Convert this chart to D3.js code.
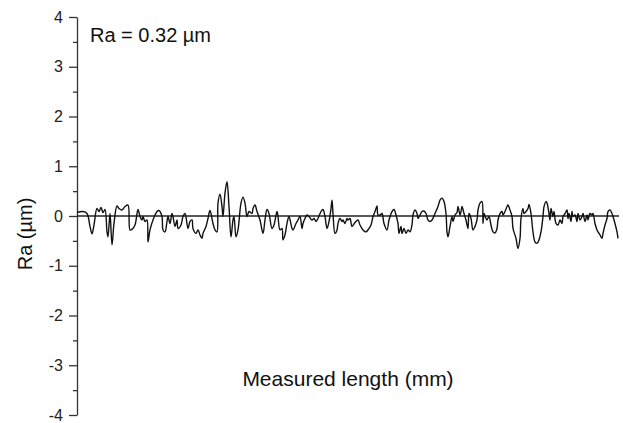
<!DOCTYPE html>
<html><head><meta charset="utf-8">
<script src="https://cdn.jsdelivr.net/npm/d3@7"></script>
<style>html,body{margin:0;padding:0;background:#fff;}svg{display:block;font-family:"Liberation Sans",Arial,sans-serif;}</style>
</head><body><div id="chart"></div>
<script>
// Surface profile: measured length (mm) and profile height (µm)
const lengthMm = [0.00,0.06,0.10,0.13,0.15,0.17,0.20,0.22,0.24,0.26,0.28,0.30,0.31,0.33,0.35,0.37,0.40,0.42,0.45,0.48,0.51,0.53,0.55,0.58,0.61,0.63,0.65,0.66,0.68,0.70,0.71,0.73,0.76,0.80,0.82,0.85,0.86,0.88,0.90,0.91,0.93,0.95,0.96,0.98,1.00,1.01,1.04,1.06,1.08,1.11,1.13,1.15,1.16,1.19,1.21,1.23,1.25,1.26,1.29,1.31,1.33,
1.36,1.38,1.40,1.41,1.43,1.45,1.46,1.48,1.50,1.52,1.54,1.56,1.57,1.59,1.61,1.64,1.66,1.68,1.70,1.72,1.75,1.76,1.78,1.80,1.83,1.86,1.88,1.90,1.92,1.95,1.97,2.00,2.01,2.03,2.05,2.06,2.08,2.10,2.12,2.15,2.16,2.19,2.21,2.23,2.25,2.26,2.28,2.30,2.32,2.35,2.37,2.39,2.41,2.44,2.46,2.48,2.50,2.52,2.54,2.55,2.56,2.58,2.60,2.61,2.63,2.65,2.66,2.68,2.70,2.71,
2.73,2.75,2.78,2.81,2.83,2.86,2.89,2.91,2.94,2.96,2.98,3.00,3.01,3.03,3.05,3.07,3.10,3.12,3.15,3.17,3.19,3.21,3.22,3.24,3.25,3.27,3.29,3.31,3.33,3.35,3.36,3.38,3.40,3.41,3.43,3.45,3.47,3.49,3.51,3.53,3.55,3.58,3.61,3.63,3.65,3.67,3.69,3.70,3.71,3.73,3.75,3.76,3.78,3.80,3.81,3.83,3.84,3.85,3.87,3.89,3.91,3.92,3.94,3.96,3.98,4.00,4.01,4.03,4.05,
4.06,4.07,4.09,4.10,4.12,4.14,4.16,4.18,4.20,4.21,4.23,4.25,4.26,4.28,4.30,4.31,4.33,4.35,4.36,4.39,4.41,4.43,4.44,4.46,4.47,4.49,4.51,4.52,4.54,4.56,4.58,4.60,4.62,4.64,4.66,4.67,4.69,4.70,4.72,4.73,4.74,4.76,4.77,4.79,4.81,4.83,4.85,4.86,4.88,4.90,4.91,4.92,4.94,4.95,4.96,4.98,5.00,5.01,5.03,5.05,5.06,5.08,5.10,5.11,5.13,5.15,5.16,5.18,5.20,5.21,5.23,5.25,5.26,5.28,5.30,5.31,5.33,5.35,5.36,5.38,5.40,5.41];
const raUm = [0.07,0.09,0.05,-0.21,-0.36,-0.18,0.15,0.09,0.17,0.07,0.13,-0.32,-0.42,0.05,-0.58,-0.15,0.20,0.15,0.12,0.19,0.22,-0.28,-0.27,-0.18,0.13,-0.01,-0.08,-0.01,-0.11,-0.08,-0.52,-0.28,-0.08,0.09,0.11,-0.01,-0.28,-0.32,-0.11,-0.01,-0.15,0.05,-0.01,-0.21,-0.08,-0.25,-0.18,-0.01,0.05,-0.25,-0.11,-0.08,-0.25,-0.35,-0.28,-0.38,-0.45,-0.35,-0.21,-0.05,0.11,
-0.15,-0.28,-0.32,0.26,0.44,0.19,-0.01,0.46,0.69,0.19,-0.42,-0.08,-0.01,-0.42,-0.28,0.26,0.38,0.26,-0.01,0.09,0.05,0.15,0.22,0.09,-0.08,-0.35,-0.08,0.13,0.05,-0.25,-0.18,0.09,-0.01,-0.28,-0.25,-0.48,-0.38,-0.15,-0.01,-0.25,-0.28,-0.15,-0.08,-0.01,-0.25,-0.15,-0.05,0.02,-0.01,-0.08,-0.05,-0.11,-0.05,0.09,0.13,-0.01,-0.25,-0.11,0.15,0.32,0.05,-0.35,-0.28,-0.15,-0.05,-0.11,-0.08,-0.15,-0.05,-0.08,
-0.05,-0.21,-0.13,-0.08,-0.18,-0.28,-0.32,-0.28,-0.18,-0.01,0.09,0.20,0.02,0.02,0.05,-0.15,-0.28,-0.08,0.09,0.13,0.02,-0.15,-0.35,-0.21,-0.35,-0.25,-0.35,-0.28,-0.32,-0.18,0.02,0.12,0.05,-0.05,0.02,0.09,0.10,0.05,-0.08,-0.11,-0.08,0.05,0.19,0.32,0.36,0.29,0.05,-0.32,-0.42,-0.21,-0.01,-0.11,0.02,0.07,0.19,0.02,0.09,0.19,0.05,-0.08,-0.25,0.05,-0.05,-0.28,-0.21,-0.08,0.12,0.26,0.29,
-0.15,0.05,-0.05,-0.08,-0.01,-0.18,-0.32,-0.34,-0.25,-0.08,0.05,0.09,0.02,0.09,0.19,0.22,0.12,-0.01,-0.25,-0.45,-0.65,-0.45,-0.05,0.15,0.05,0.09,0.15,0.23,0.05,-0.32,-0.52,-0.55,-0.48,-0.32,-0.01,0.19,0.29,0.26,0.05,-0.08,0.15,-0.01,0.09,-0.15,-0.18,-0.08,-0.15,-0.01,0.05,0.12,-0.05,0.05,-0.11,0.09,-0.01,0.02,-0.11,0.05,-0.08,-0.01,0.05,-0.11,0.02,-0.08,0.05,0.02,0.05,-0.15,-0.28,-0.32,-0.38,-0.45,-0.35,-0.18,-0.05,0.09,0.12,0.05,-0.01,-0.15,-0.32,-0.45];
const yTicks = [-4,-3,-2,-1,0,1,2,3,4];
const yTickLabels = ["-4","-3","-2","-1","0","1","2","3","4"];
const annotation = "Ra = 0.32 \u00B5m";
const xTitle = "Measured length (mm)";
const yTitle = "Ra (\u00B5m)";

const W = 623, H = 423;
const mLeft = 77, mRight = 619, mTop = 17, mBottom = 415;
const svg = d3.select("#chart").append("svg").attr("width", W).attr("height", H);

const x = d3.scaleLinear().domain([0, 5.42]).range([mLeft, mRight]);
const y = d3.scaleLinear().domain([-4, 4]).range([mBottom, mTop]);

// minor ticks
const minorAxis = d3.axisLeft(y).tickValues(d3.range(-3.5, 4, 1)).tickSize(4).tickSizeOuter(0).tickFormat("");
svg.append("g").attr("transform", `translate(${mLeft},0)`).call(minorAxis)
  .call(g => g.select(".domain").remove())
  .call(g => g.selectAll("line").attr("stroke", "#333").attr("stroke-width", 1.3));

const yAxis = d3.axisLeft(y).tickValues(yTicks).tickSize(8).tickSizeOuter(0).tickPadding(6)
  .tickFormat((d, i) => yTickLabels[i]);
svg.append("g").attr("transform", `translate(${mLeft},0)`).call(yAxis)
  .call(g => g.select(".domain").attr("stroke", "#333").attr("stroke-width", 1.3))
  .call(g => g.selectAll("line").attr("stroke", "#333").attr("stroke-width", 1.3))
  .call(g => g.selectAll("text").attr("font-size", 16).attr("fill", "#222").attr("font-family", "Liberation Sans, Arial, sans-serif"));

// zero reference line
svg.append("line").attr("x1", x(0)).attr("x2", x(5.42)).attr("y1", y(0)).attr("y2", y(0))
  .attr("stroke", "#222").attr("stroke-width", 1.7);

const n = Math.min(lengthMm.length, raUm.length);
const pts = d3.range(n).map(i => [lengthMm[i], raUm[i]]);
const line = d3.line().x(d => x(d[0])).y(d => y(d[1])).curve(d3.curveCatmullRom.alpha(0.5));
svg.append("path").attr("d", line(pts)).attr("fill", "none").attr("stroke", "#111").attr("stroke-width", 1.4);

svg.append("text").attr("x", 90).attr("y", 42).attr("font-size", 20).attr("fill", "#111").text(annotation);
svg.append("text").attr("x", (mLeft + mRight) / 2).attr("y", 386).attr("text-anchor", "middle")
  .attr("font-size", 21).attr("fill", "#111").text(xTitle);
svg.append("text").attr("transform", `translate(32,234) rotate(-90)`).attr("text-anchor", "middle")
  .attr("font-size", 20).attr("fill", "#111").text(yTitle);
</script></body></html>
